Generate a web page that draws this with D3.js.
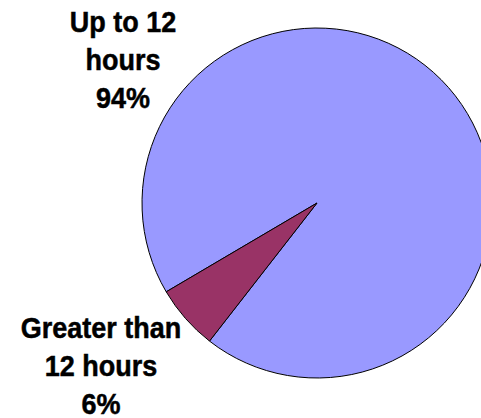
<!DOCTYPE html>
<html>
<head>
<meta charset="utf-8">
<script src="https://cdn.jsdelivr.net/npm/d3@7"></script>
<style>
  html, body { margin: 0; padding: 0; background: #fff; }
  svg { display: block; }
  text { font-family: "Liberation Sans", Arial, sans-serif; font-weight: bold; fill: #000; }
</style>
</head>
<body>
<svg id="chart" width="481" height="418"></svg>
<script>
const categories = ["Up to 12 hours", "Greater than 12 hours"];
const values = [94, 6];
const labelLines = [["Up to 12", "hours", "94%"], ["Greater than", "12 hours", "6%"]];
const colors = ["#9999FF", "#993366"];

const W = 481, H = 418;
const cx = 317, cy = 203, R = 175;
const svg = d3.select("#chart");

const startDeg = -120.5;
const pie = d3.pie().sort(null).value(d => d)
  .startAngle(startDeg * Math.PI / 180)
  .endAngle((startDeg + 360) * Math.PI / 180);
const arcs = pie(values);
const arc = d3.arc().innerRadius(0).outerRadius(R);

const g = svg.append("g").attr("transform", `translate(${cx},${cy})`);
g.selectAll("path").data(arcs).join("path")
  .attr("d", arc)
  .attr("fill", (d, i) => colors[i])
  .attr("stroke", "#000")
  .attr("stroke-width", 1)
  .attr("stroke-linejoin", "round");

// label layout (center x, first baseline); glyphs slightly condensed
const labelPos = [{x: 123, y: 32}, {x: 101, y: 338}];
const lineH = 38;
const sx = 0.9;
labelLines.forEach((lines, i) => {
  const t = svg.append("text")
    .attr("text-anchor", "middle")
    .attr("font-size", 30)
    .attr("stroke", "#000")
    .attr("stroke-width", 0.5)
    .attr("transform", `translate(${labelPos[i].x},${labelPos[i].y}) scale(${sx},1)`);
  lines.forEach((ln, j) => {
    t.append("tspan").attr("x", 0).attr("y", j * lineH).text(ln);
  });
});
</script>
</body>
</html>
